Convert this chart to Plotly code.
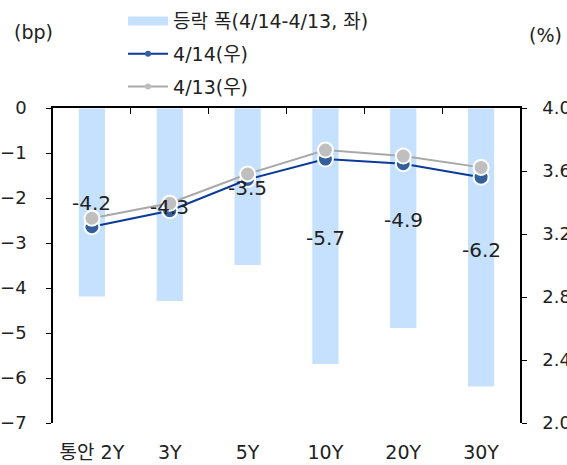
import plotly.graph_objects as go

categories = ["통안 2Y", "3Y", "5Y", "10Y", "20Y", "30Y"]
change_bp = [-4.2, -4.3, -3.5, -5.7, -4.9, -6.2]
yield_0414 = [3.246, 3.348, 3.546, 3.676, 3.646, 3.561]
yield_0413 = [3.300, 3.395, 3.581, 3.733, 3.695, 3.623]
label_y = [-2.11, -2.2, -1.78, -2.89, -2.49, -3.16]

FONT = "DejaVu Sans, Noto Sans CJK KR"
FS = 19
BAR_C = "#c5e1fd"
BLUE_L, BLUE_M = "#0a3a9a", "#33609a"
GRAY_L, GRAY_M = "#a8a8a8", "#bfbfbf"
xs = list(range(len(categories)))

fig = go.Figure()
fig.add_trace(go.Bar(x=xs, y=change_bp, showlegend=False,
                     marker=dict(color=BAR_C, line=dict(color="white", width=1)),
                     width=0.35, yaxis="y"))
fig.add_trace(go.Scatter(x=xs, y=yield_0414, showlegend=False, yaxis="y2", mode="lines+markers",
                         line=dict(color=BLUE_L, width=2),
                         marker=dict(color=BLUE_M, size=15, line=dict(color="white", width=2))))
fig.add_trace(go.Scatter(x=xs, y=yield_0413, showlegend=False, yaxis="y2", mode="lines+markers",
                         line=dict(color=GRAY_L, width=2),
                         marker=dict(color=GRAY_M, size=15, line=dict(color="white", width=2))))
# legend-only entries (no data)
fig.add_trace(go.Scatter(x=[None], y=[None], name="등락 폭(4/14-4/13, 좌)", mode="lines",
                         legendgroup="a", line=dict(color=BAR_C, width=9)))
fig.add_trace(go.Scatter(x=[None], y=[None], name="4/14(우)", mode="lines+markers", legendgroup="b",
                         line=dict(color=BLUE_L, width=2), marker=dict(color=BLUE_M, size=6)))
fig.add_trace(go.Scatter(x=[None], y=[None], name="4/13(우)", mode="lines+markers", legendgroup="c",
                         line=dict(color=GRAY_L, width=2), marker=dict(color=GRAY_M, size=6)))
# invisible trace to activate top axis (boundary ticks)
fig.add_trace(go.Scatter(x=[None], y=[None], xaxis="x2", showlegend=False, hoverinfo="skip"))

for x, v, ly in zip(xs, change_bp, label_y):
    fig.add_annotation(x=x, y=ly, xref="x", yref="y", text=f"{v:.1f}", showarrow=False,
                       font=dict(family=FONT, size=20, color="#222"))

fig.add_annotation(x=-0.088, y=1.241, xref="paper", yref="paper", xanchor="left", yanchor="middle",
                   text="(bp)", showarrow=False, font=dict(size=FS))
fig.add_annotation(x=1.015, y=1.232, xref="paper", yref="paper", xanchor="left", yanchor="middle",
                   text="(%)", showarrow=False, font=dict(size=FS))

fig.update_layout(
    width=567, height=465,
    margin=dict(l=53, r=47, t=108, b=42, autoexpand=False),
    paper_bgcolor="white", plot_bgcolor="white",
    font=dict(family=FONT, size=FS, color="#222"),
    showlegend=True,
    legend=dict(x=0.15, y=1.336, xref="paper", yref="paper", xanchor="left", yanchor="top",
                font=dict(size=FS), tracegroupgap=5, itemwidth=40,
                bgcolor="rgba(0,0,0,0)"),
    xaxis=dict(range=[-0.5, 5.5], tickmode="array", tickvals=xs, ticktext=categories,
               showline=False, ticks="", showgrid=False, zeroline=False, tickangle=0,
               ticklabelstandoff=16, tickfont=dict(size=FS)),
    xaxis2=dict(range=[-0.5, 5.5], overlaying="x", side="top", anchor="y",
                tickmode="array", tickvals=[0.5, 1.5, 2.5, 3.5, 4.5], showticklabels=False,
                ticks="inside", ticklen=6, tickcolor="black", showline=True, linecolor="black",
                linewidth=1.5, showgrid=False, zeroline=False),
    yaxis=dict(range=[-7, 0], dtick=1, showline=True, linecolor="black", linewidth=1.5,
               ticks="outside", ticklen=5, tickcolor="black", showgrid=False, zeroline=False,
               ticklabelstandoff=16, tickfont=dict(size=18)),
    yaxis2=dict(range=[2.0, 4.0], dtick=0.4, tickformat=".1f", overlaying="y", side="right",
                showline=True, linecolor="black", linewidth=1.5, ticks="outside", ticklen=5,
                tickcolor="black", showgrid=False, zeroline=False, ticklabelstandoff=12,
                tickfont=dict(size=18)),
)

fig.write_html("out.html", config={"displayModeBar": False},
               post_script="document.body.style.margin='0';document.body.style.overflow='hidden';")
